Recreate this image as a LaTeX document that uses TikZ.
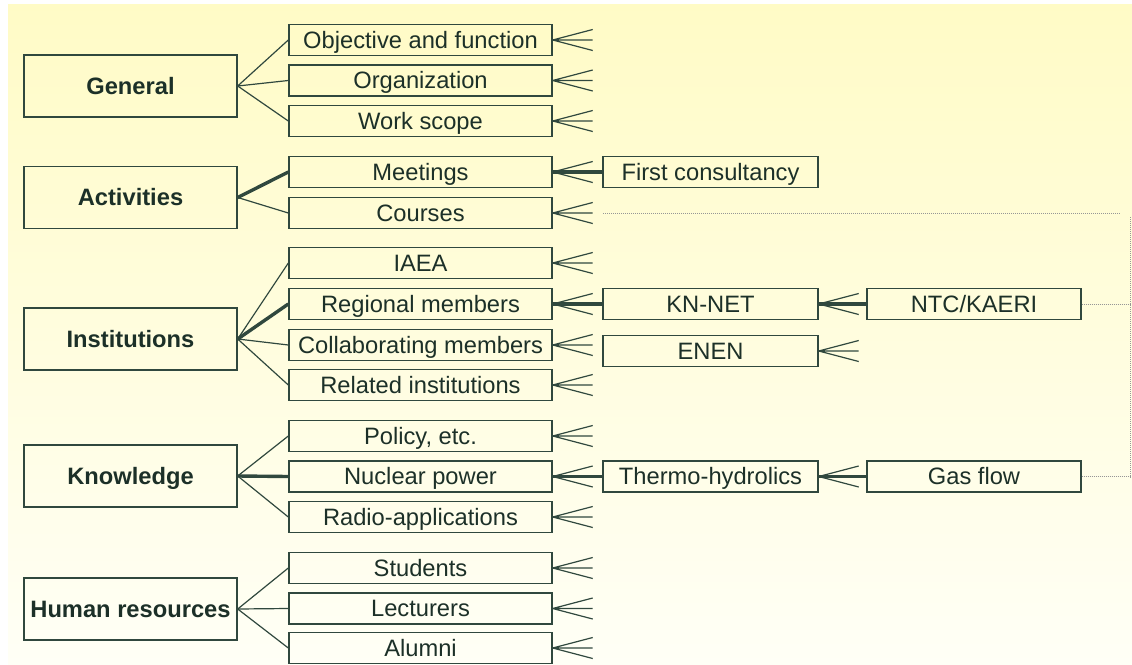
\documentclass[tikz,border=0pt]{standalone}
\usepackage{fontspec}
\setmainfont{Liberation Sans}
\definecolor{ln}{RGB}{48,72,62}
\definecolor{tx}{RGB}{28,48,40}
\definecolor{bgtop}{RGB}{255,251,198}
\definecolor{bgbot}{RGB}{255,255,246}
\definecolor{dotc}{RGB}{150,150,150}
\tikzset{
  boxbase/.style={draw=ln, line width=1.4pt, inner sep=0pt, text=tx,
    text height=17pt, text depth=1pt, font=\fontsize{23.7}{28}\selectfont},
  parent/.style={boxbase, minimum width=213pt, minimum height=62pt, font=\fontsize{23.7}{28}\selectfont\bfseries},
  child/.style={boxbase, minimum width=263pt, minimum height=31pt},
  third/.style={boxbase, minimum width=215pt, minimum height=31pt},
  fourth/.style={boxbase, minimum width=214pt, minimum height=31pt},
  thinln/.style={draw=ln, line width=1.2pt},
  thickln/.style={draw=ln, line width=3.4pt},
  dotln/.style={draw=dotc, line width=1pt, dash pattern=on 1pt off 1pt}
}
\newcommand{\crowfoot}[1]{\draw[thinln] (#1.east) -- ++(40,-10.5) (#1.east) -- ++(40,0) (#1.east) -- ++(40,10.5);}
\begin{document}
\begin{tikzpicture}[x=1pt,y=-1pt]
\useasboundingbox (0,0) rectangle (1132,664);
\fill[top color=bgtop, bottom color=bgbot] (8,4) rectangle (1132,664);

% parents
\node[parent] (gen) at (130.5,86) {General};
\node[parent] (act) at (130.5,197.5) {Activities};
\node[parent] (ins) at (130.5,339) {Institutions};
\node[parent] (kno) at (130.5,476) {Knowledge};
\node[parent] (hum) at (130.5,609) {Human resources};

% children
\node[child] (obj) at (420.5,40) {Objective and function};
\node[child] (org) at (420.5,80.5) {Organization};
\node[child] (wsc) at (420.5,121) {Work scope};
\node[child] (mee) at (420.5,172) {Meetings};
\node[child] (cou) at (420.5,213) {Courses};
\node[child] (iae) at (420.5,263) {IAEA};
\node[child] (reg) at (420.5,304) {Regional members};
\node[child] (col) at (420.5,345) {Collaborating members};
\node[child] (rel) at (420.5,385) {Related institutions};
\node[child] (pol) at (420.5,436) {Policy, etc.};
\node[child] (nuc) at (420.5,476.5) {Nuclear power};
\node[child] (rad) at (420.5,517) {Radio-applications};
\node[child] (stu) at (420.5,568) {Students};
\node[child] (lec) at (420.5,608.5) {Lecturers};
\node[child] (alu) at (420.5,648) {Alumni};

% third column
\node[third] (fir) at (710.5,172) {First consultancy};
\node[third] (knn) at (710.5,304) {KN-NET};
\node[third] (ene) at (710.5,351) {ENEN};
\node[third] (the) at (710.5,476.5) {Thermo-hydrolics};

% fourth column
\node[fourth] (ntc) at (974,304) {NTC/KAERI};
\node[fourth] (gas) at (974,476.5) {Gas flow};

% parent -> child connectors
\draw[thinln] (gen.east) -- (obj.west);
\draw[thinln] (gen.east) -- (org.west);
\draw[thinln] (gen.east) -- (wsc.west);
\draw[thickln] (act.east) -- (mee.west);
\draw[thinln] (act.east) -- (cou.west);
\draw[thinln] (ins.east) -- (iae.west);
\draw[thickln] (ins.east) -- (reg.west);
\draw[thinln] (ins.east) -- (col.west);
\draw[thinln] (ins.east) -- (rel.west);
\draw[thinln] (kno.east) -- (pol.west);
\draw[thickln] (kno.east) -- (nuc.west);
\draw[thinln] (kno.east) -- (rad.west);
\draw[thinln] (hum.east) -- (stu.west);
\draw[thinln] (hum.east) -- (lec.west);
\draw[thinln] (hum.east) -- (alu.west);

% crow's feet
\foreach \n in {obj,org,wsc,mee,cou,iae,reg,col,rel,pol,nuc,rad,stu,lec,alu,knn,ene,the}{\crowfoot{\n}}

% thick links
\draw[thickln] (fir.west) -- (mee.east);
\draw[thickln] (knn.west) -- (reg.east);
\draw[thickln] (ntc.west) -- (knn.east);
\draw[thickln] (the.west) -- (nuc.east);
\draw[thickln] (gas.west) -- (the.east);

% dotted links
\coordinate (cstart) at (603,213);
\coordinate (cend) at (1120,213);
\coordinate (vtop) at (1130.5,217);
\coordinate (vbot) at (1130.5,479);
\draw[dotln] (cstart) -- (cend);
\draw[dotln] (vtop) -- (vbot);
\draw[dotln] (ntc.east) -- (ntc.east -| vtop);
\draw[dotln] (gas.east) -- (gas.east -| vtop);
\end{tikzpicture}
\end{document}
